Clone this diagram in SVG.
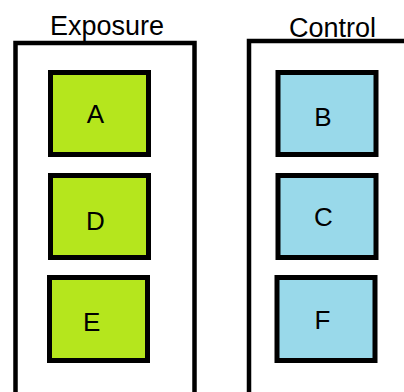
<svg xmlns="http://www.w3.org/2000/svg" width="404" height="392" viewBox="0 0 404 392">
<style>
  .group { fill: #ffffff; stroke: #000000; stroke-width: 4.5; }
  .exp { fill: #b5e61d; stroke: #000000; stroke-width: 5; }
  .ctl { fill: #99d9ea; stroke: #000000; stroke-width: 5; }
  .title { font-family: "Liberation Sans", Arial, sans-serif; font-size: 27px; fill: #000000; text-anchor: middle; }
  .lbl { font-family: "Liberation Sans", Arial, sans-serif; font-size: 26px; fill: #000000; text-anchor: middle; }
</style>
<rect width="404" height="392" fill="#ffffff"/>
<g id="group-exposure">
  <rect class="group" x="15.5" y="43" width="179" height="360"/>
  <text class="title" x="107" y="35">Exposure</text>
</g>
<g id="group-control">
  <rect class="group" x="249" y="41" width="180" height="362"/>
  <text class="title" x="332.5" y="36.5">Control</text>
</g>
<g id="node-A">
  <rect class="exp" x="50.5" y="72.5" width="98" height="82"/>
  <text class="lbl" x="95.5" y="122.5">A</text>
</g>
<g id="node-D">
  <rect class="exp" x="50.5" y="175.5" width="98" height="82"/>
  <text class="lbl" x="95.3" y="229.5">D</text>
</g>
<g id="node-E">
  <rect class="exp" x="49.5" y="277.5" width="98" height="83"/>
  <text class="lbl" x="91.7" y="331">E</text>
</g>
<g id="node-B">
  <rect class="ctl" x="278" y="72.5" width="98" height="82"/>
  <text class="lbl" x="323" y="126">B</text>
</g>
<g id="node-C">
  <rect class="ctl" x="278" y="175.5" width="98" height="82"/>
  <text class="lbl" x="323.3" y="226">C</text>
</g>
<g id="node-F">
  <rect class="ctl" x="277" y="277.5" width="98" height="83"/>
  <text class="lbl" x="322.5" y="329">F</text>
</g>
<g id="connectors"></g>
</svg>
